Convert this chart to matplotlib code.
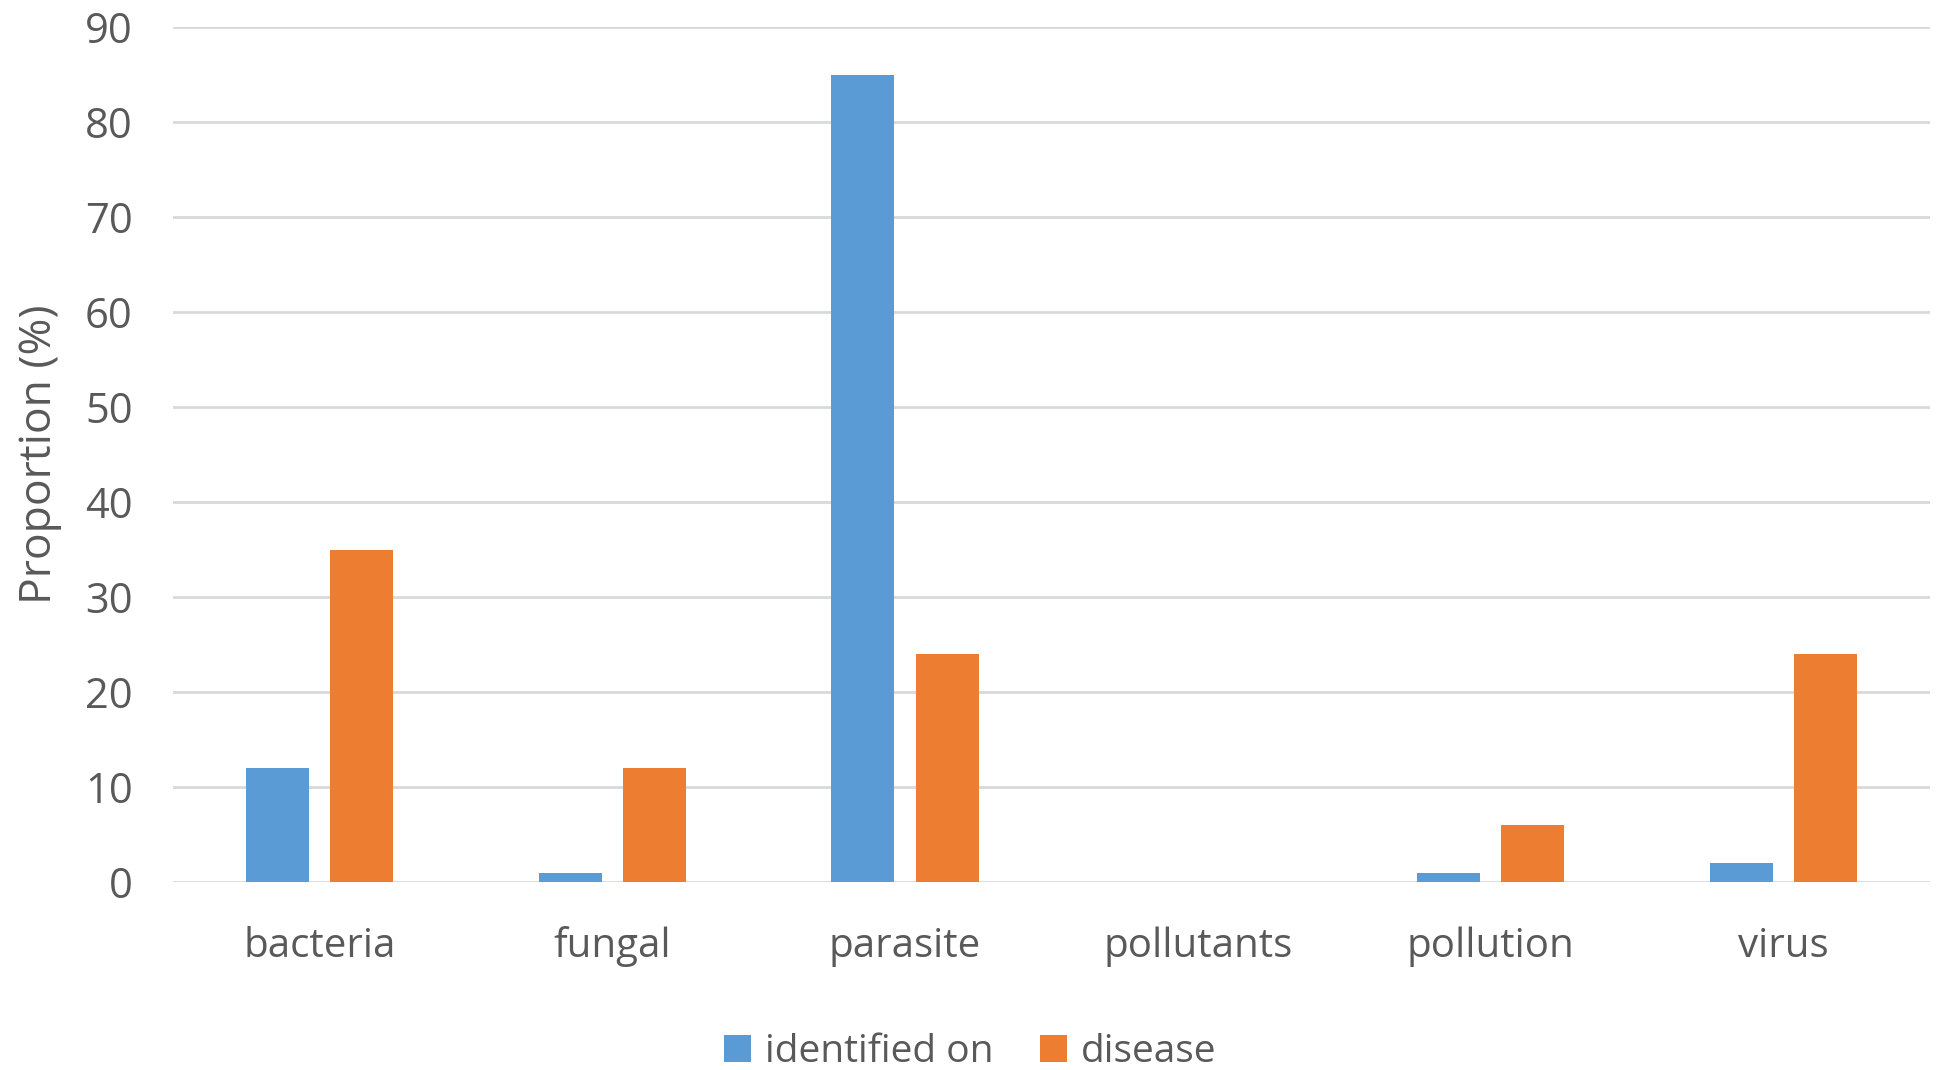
import matplotlib
matplotlib.use("Agg")
import matplotlib.pyplot as plt
import numpy as np

categories = ["bacteria", "fungal", "parasite", "pollutants", "pollution", "virus"]
identified_on = [12, 1, 85, 0, 1, 2]
disease = [35, 12, 24, 0, 6, 24]
yticks = [0, 10, 20, 30, 40, 50, 60, 70, 80, 90]

plt.rcParams['font.family'] = ['Open Sans', 'DejaVu Sans']
grey = '#595959'

fig = plt.figure(figsize=(19.4, 10.7), dpi=100)
ax = fig.add_axes([173/1940, 1 - 882/1070, (1930-173)/1940, (882-27)/1070])

x = np.arange(len(categories))
w = 0.215
off = 0.144
ax.bar(x - off, identified_on, w, color='#5B9BD5', label='identified on', zorder=3)
ax.bar(x + off, disease, w, color='#ED7D31', label='disease', zorder=3)

ax.set_xlim(-0.5, len(categories) - 0.5)
ax.set_ylim(0, 90)
ax.set_yticks(yticks)
ax.set_yticklabels([str(t) for t in yticks], fontsize=30, color=grey)
ax.set_xticks(x)
ax.set_xticklabels(categories, fontsize=29, color=grey)
ax.tick_params(axis='both', length=0)
ax.tick_params(axis='y', pad=29)
ax.tick_params(axis='x', pad=32)
ax.grid(axis='y', color='#d9d9d9', linewidth=2, zorder=0)
for s in ax.spines.values():
    s.set_visible(False)

ax.set_ylabel('Proportion (%)', fontsize=32, color=grey, ha='center', va='center',
              rotation_mode='default')
ax.yaxis.set_label_coords((40 - 173) / (1930 - 173), 0.5)

leg = fig.legend(loc='center', bbox_to_anchor=(0.5, 1 - 1052/1070), ncol=2, frameon=False,
                 fontsize=28, handlelength=0.7, handleheight=0.7, handletextpad=0.35, columnspacing=1.2)
for t in leg.get_texts():
    t.set_color(grey)

fig.savefig('out.png', dpi=100)
